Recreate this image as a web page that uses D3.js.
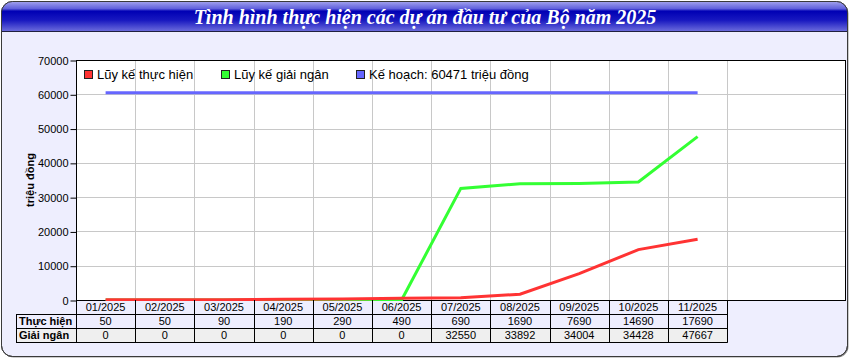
<!DOCTYPE html>
<html>
<head>
<meta charset="utf-8">
<script src="https://cdn.jsdelivr.net/npm/d3@7"></script>
<style>
  body { margin: 0; background: #ffffff; }
  svg { display: block; font-family: "Liberation Sans", Arial, sans-serif; }
</style>
</head>
<body>
<div id="chart"></div>
<script>
// data
var months = ["01/2025", "02/2025", "03/2025", "04/2025", "05/2025", "06/2025",
  "07/2025", "08/2025", "09/2025", "10/2025", "11/2025"];
var thucHien = [50, 50, 90, 190, 290, 490, 690, 1690, 7690, 14690, 17690];
var giaiNgan = [0, 0, 0, 0, 0, 0, 32550, 33892, 34004, 34428, 47667];
var keHoach = 60471;
var yTicks = [0, 10000, 20000, 30000, 40000, 50000, 60000, 70000];
var legendLabels = ["Lũy kế thực hiện", "Lũy kế giải ngân", "Kế hoạch: 60471 triệu đồng"];
var rowLabels = ["Thực hiện", "Giải ngân"];
var title = "Tình hình thực hiện các dự án đầu tư của Bộ năm 2025";

var W = 850, H = 360;
var plot = { left: 76, right: 845, top: 60, bottom: 300 };
var colW = 59.2;
var rowH = 14;

var svg = d3.select("#chart").append("svg")
  .attr("width", W)
  .attr("height", H);

var defs = svg.append("defs");
var grad = defs.append("linearGradient")
  .attr("id", "titleGrad")
  .attr("x1", 0).attr("y1", 0).attr("x2", 0).attr("y2", 1);
grad.append("stop").attr("offset", "0%").attr("stop-color", "#b0b0f2");
grad.append("stop").attr("offset", "28%").attr("stop-color", "#6060dc");
grad.append("stop").attr("offset", "36%").attr("stop-color", "#0000b4");
grad.append("stop").attr("offset", "65%").attr("stop-color", "#1818c0");
grad.append("stop").attr("offset", "100%").attr("stop-color", "#6a6adc");

defs.append("clipPath").attr("id", "frameClip")
  .append("rect")
  .attr("x", 1.5).attr("y", 1.5)
  .attr("width", 846).attr("height", 355)
  .attr("rx", 11);

// outer panel
svg.append("rect")
  .attr("x", 2.5).attr("y", 2.5)
  .attr("width", 846).attr("height", 355)
  .attr("rx", 11)
  .attr("fill", "#9a9a9a");
svg.append("rect")
  .attr("x", 1.5).attr("y", 1.5)
  .attr("width", 846).attr("height", 355)
  .attr("rx", 11)
  .attr("fill", "#eeeefe")
  .attr("stroke", "#3a3a3a")
  .attr("stroke-width", 1);

// title bar
var tb = svg.append("g").attr("clip-path", "url(#frameClip)");
tb.append("rect")
  .attr("x", 0).attr("y", 0)
  .attr("width", W).attr("height", 31)
  .attr("fill", "url(#titleGrad)");
tb.append("line")
  .attr("x1", 0).attr("x2", W)
  .attr("y1", 31.5).attr("y2", 31.5)
  .attr("stroke", "#202040");
svg.append("rect")
  .attr("x", 1.5).attr("y", 1.5)
  .attr("width", 846).attr("height", 355)
  .attr("rx", 11)
  .attr("fill", "none")
  .attr("stroke", "#3a3a3a");

svg.append("text")
  .attr("x", 425)
  .attr("y", 24)
  .attr("text-anchor", "middle")
  .attr("fill", "#ffffff")
  .style("font-family", "'Liberation Serif', 'Times New Roman', serif")
  .style("font-style", "italic")
  .style("font-weight", "bold")
  .style("font-size", "20px")
  .text(title);

// scales
var xScale = d3.scaleBand()
  .domain(months)
  .range([plot.left, plot.left + colW * months.length]);

var yScale = d3.scaleLinear()
  .domain([0, 70000])
  .range([plot.bottom, plot.top]);

var cx = function (i) { return xScale(months[i]) + xScale.bandwidth() / 2; };

// plot area
svg.append("rect")
  .attr("x", plot.left).attr("y", plot.top)
  .attr("width", plot.right - plot.left)
  .attr("height", plot.bottom - plot.top)
  .attr("fill", "#ffffff");

// grid
svg.append("g")
  .selectAll("line")
  .data(yTicks.slice(1, -1))
  .join("line")
  .attr("x1", plot.left).attr("x2", plot.right)
  .attr("y1", (d) => Math.round(yScale(d)) + 0.5)
  .attr("y2", (d) => Math.round(yScale(d)) + 0.5)
  .attr("stroke", "#c8c8c8");

svg.append("g")
  .selectAll("line")
  .data(months)
  .join("line")
  .attr("x1", (d) => Math.round(xScale(d) + colW) + 0.5)
  .attr("x2", (d) => Math.round(xScale(d) + colW) + 0.5)
  .attr("y1", plot.top).attr("y2", plot.bottom)
  .attr("stroke", "#c8c8c8");

// plot frame
svg.append("rect")
  .attr("x", plot.left + 0.5).attr("y", plot.top + 0.5)
  .attr("width", plot.right - plot.left)
  .attr("height", plot.bottom - plot.top)
  .attr("fill", "none")
  .attr("stroke", "#000000");

// y axis
var yAxis = svg.append("g")
  .attr("transform", "translate(" + (plot.left + 0.5) + ",0.5)")
  .call(d3.axisLeft(yScale).tickValues(yTicks).tickSize(6).tickPadding(2).tickFormat(d3.format("d")));
yAxis.select(".domain").remove();
yAxis.selectAll("text")
  .style("font-size", "11px")
  .style("font-family", "'Liberation Sans', Arial, sans-serif")
  .attr("fill", "#000");
yAxis.selectAll("line").attr("stroke", "#000");

svg.append("text")
  .attr("transform", "translate(34,180) rotate(-90)")
  .attr("text-anchor", "middle")
  .style("font-size", "11px")
  .style("font-weight", "bold")
  .text("triệu đồng");

// lines
var lineGen = d3.line()
  .x((d, i) => cx(i))
  .y((d) => yScale(d));

svg.append("line")
  .attr("x1", cx(0)).attr("x2", cx(months.length - 1))
  .attr("y1", yScale(keHoach)).attr("y2", yScale(keHoach))
  .attr("stroke", "#6666ff")
  .attr("stroke-width", 3);

svg.append("path")
  .datum(giaiNgan)
  .attr("d", lineGen)
  .attr("fill", "none")
  .attr("stroke", "#33ff33")
  .attr("stroke-width", 3);

svg.append("path")
  .datum(thucHien)
  .attr("d", lineGen)
  .attr("fill", "none")
  .attr("stroke", "#ff3333")
  .attr("stroke-width", 3);

// legend
var legendColors = ["#ff3333", "#33ff33", "#6666ff"];
var legendX = [84, 221, 356];
var legend = svg.append("g")
  .selectAll("g")
  .data(legendLabels)
  .join("g")
  .attr("transform", (d, i) => "translate(" + legendX[i] + ",70)");
legend.append("rect")
  .attr("x", 0.5).attr("y", 0.5)
  .attr("width", 8).attr("height", 8)
  .attr("fill", (d, i) => legendColors[i])
  .attr("stroke", "#222");
legend.append("text")
  .attr("x", 13)
  .attr("y", 9)
  .style("font-size", "13px")
  .text((d) => d);

// data table
var table = svg.append("g");
var tableRight = plot.left + colW * months.length;

table.append("rect")
  .attr("x", plot.left).attr("y", plot.bottom + 1)
  .attr("width", tableRight - plot.left).attr("height", rowH * 2 - 1)
  .attr("fill", "#eeeefe");
table.append("rect")
  .attr("x", 16).attr("y", plot.bottom + rowH * 2)
  .attr("width", tableRight - 16).attr("height", rowH)
  .attr("fill", "#efefef");

// horizontal rules
[1, 2, 3].forEach(function (r) {
  table.append("line")
    .attr("x1", 16).attr("x2", tableRight + 0.5)
    .attr("y1", plot.bottom + rowH * r + 0.5)
    .attr("y2", plot.bottom + rowH * r + 0.5)
    .attr("stroke", "#000");
});

// vertical rules
table.selectAll("line.v")
  .data(d3.range(months.length + 1))
  .join("line")
  .attr("class", "v")
  .attr("x1", (i) => Math.round(plot.left + colW * i) + 0.5)
  .attr("x2", (i) => Math.round(plot.left + colW * i) + 0.5)
  .attr("y1", plot.bottom)
  .attr("y2", plot.bottom + rowH * 3 + 0.5)
  .attr("stroke", "#000");
table.append("line")
  .attr("x1", 16.5).attr("x2", 16.5)
  .attr("y1", plot.bottom + rowH + 0.5)
  .attr("y2", plot.bottom + rowH * 3 + 0.5)
  .attr("stroke", "#000");

table.selectAll("text.month")
  .data(months)
  .join("text")
  .attr("class", "month")
  .attr("x", (d) => xScale(d) + xScale.bandwidth() / 2)
  .attr("y", plot.bottom + 11)
  .attr("text-anchor", "middle")
  .style("font-size", "11px")
  .text((d) => d);

[thucHien, giaiNgan].forEach(function (row, r) {
  table.append("text")
    .attr("x", 19)
    .attr("y", plot.bottom + rowH * (r + 1) + 11)
    .style("font-size", "11px")
    .style("font-weight", "bold")
    .text(rowLabels[r]);
  table.selectAll("text.r" + r)
    .data(row)
    .join("text")
    .attr("class", "r" + r)
    .attr("x", (d, i) => cx(i))
    .attr("y", plot.bottom + rowH * (r + 1) + 11)
    .attr("text-anchor", "middle")
    .style("font-size", "11px")
    .text((d) => d);
});
</script>
</body>
</html>
